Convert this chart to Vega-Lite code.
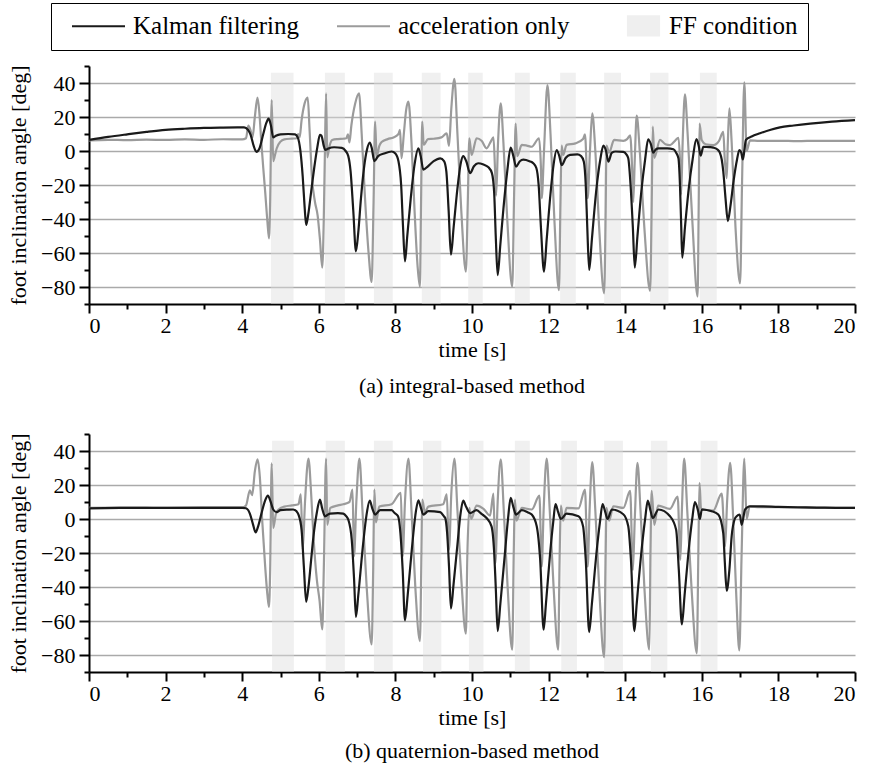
{
"$schema": "https://vega.github.io/schema/vega-lite/v6.json",
"padding": {"left": 7, "top": 2, "right": 5, "bottom": 5},
"config": {
  "font": "Liberation Serif",
  "view": {"stroke": null},
  "axis": {"labelFont": "Liberation Serif", "labelFontSize": 22, "labelColor": "black", "titleFont": "Liberation Serif", "titleFontSize": 22, "titleFontWeight": "normal", "titleColor": "black", "domainColor": "black", "domainWidth": 2, "tickColor": "black", "tickWidth": 2, "gridColor": "#aaaaaa", "gridWidth": 1.5},
  "title": {"font": "Liberation Serif", "fontSize": 22, "fontWeight": "normal", "color": "black"}
},
"datasets": {
  "legendItems": [{"series": "Kalman filtering"}, {"series": "acceleration only"}, {"series": "FF condition"}],
  "bandsA": [{"s":4.75,"e":5.34},{"s":6.16,"e":6.68},{"s":7.44,"e":7.93},{"s":8.69,"e":9.18},{"s":9.90,"e":10.28},{"s":11.12,"e":11.51},{"s":12.30,"e":12.71},{"s":13.45,"e":13.89},{"s":14.65,"e":15.13},{"s":15.95,"e":16.39}],
  "bandsB": [{"s":4.78,"e":5.35},{"s":6.18,"e":6.68},{"s":7.44,"e":7.93},{"s":8.72,"e":9.2},{"s":9.92,"e":10.3},{"s":11.12,"e":11.51},{"s":12.33,"e":12.74},{"s":13.45,"e":13.94},{"s":14.67,"e":15.1},{"s":15.97,"e":16.41}],
  "aK": [{"t":0,"v":6.5},{"t":0.5,"v":8.3},{"t":1,"v":9.8},{"t":1.5,"v":11.2},{"t":2,"v":12.4},{"t":2.5,"v":13.1},{"t":3,"v":13.6},{"t":3.5,"v":13.8},{"t":4.05,"v":13.9},{"t":4.15,"v":12.5},{"t":4.22,"v":9.5},{"t":4.3,"v":3},{"t":4.37,"v":-0.5},{"t":4.45,"v":1.5},{"t":4.55,"v":10},{"t":4.63,"v":16.5},{"t":4.69,"v":19},{"t":4.75,"v":15},{"t":4.81,"v":8},{"t":4.88,"v":9},{"t":5.0,"v":9.8},{"t":5.2,"v":10},{"t":5.38,"v":9.8},{"t":5.45,"v":8},{"t":5.52,"v":0},{"t":5.58,"v":-15},{"t":5.63,"v":-33},{"t":5.67,"v":-43.5},{"t":5.72,"v":-38},{"t":5.8,"v":-24},{"t":5.88,"v":-10},{"t":5.96,"v":2},{"t":6.03,"v":9.5},{"t":6.07,"v":9},{"t":6.13,"v":3},{"t":6.17,"v":0.6},{"t":6.25,"v":1.5},{"t":6.4,"v":2.2},{"t":6.6,"v":1.8},{"t":6.7,"v":0},{"t":6.77,"v":-3},{"t":6.83,"v":-12},{"t":6.9,"v":-35},{"t":6.97,"v":-59},{"t":7.03,"v":-48},{"t":7.1,"v":-28},{"t":7.18,"v":-10},{"t":7.26,"v":1},{"t":7.33,"v":5},{"t":7.38,"v":2},{"t":7.45,"v":-6},{"t":7.55,"v":-3},{"t":7.7,"v":-1.5},{"t":7.9,"v":-0.3},{"t":8.0,"v":-1.5},{"t":8.08,"v":-6},{"t":8.15,"v":-20},{"t":8.2,"v":-45},{"t":8.25,"v":-65},{"t":8.31,"v":-50},{"t":8.4,"v":-28},{"t":8.5,"v":-8},{"t":8.6,"v":1.6},{"t":8.66,"v":-3},{"t":8.73,"v":-11},{"t":8.85,"v":-9},{"t":9.0,"v":-6},{"t":9.17,"v":-4.3},{"t":9.27,"v":-6},{"t":9.33,"v":-12},{"t":9.39,"v":-35},{"t":9.45,"v":-61},{"t":9.52,"v":-45},{"t":9.62,"v":-22},{"t":9.7,"v":-8},{"t":9.77,"v":-3},{"t":9.85,"v":-6},{"t":9.95,"v":-13},{"t":10.05,"v":-9},{"t":10.16,"v":-7.2},{"t":10.3,"v":-8},{"t":10.43,"v":-9.6},{"t":10.52,"v":-13},{"t":10.58,"v":-25},{"t":10.62,"v":-50},{"t":10.67,"v":-73},{"t":10.74,"v":-55},{"t":10.82,"v":-34},{"t":10.92,"v":-12},{"t":11.01,"v":2},{"t":11.08,"v":-3},{"t":11.15,"v":-9.2},{"t":11.25,"v":-6},{"t":11.34,"v":-5.1},{"t":11.5,"v":-6},{"t":11.6,"v":-7.2},{"t":11.68,"v":-10},{"t":11.74,"v":-20},{"t":11.8,"v":-45},{"t":11.88,"v":-71},{"t":11.95,"v":-52},{"t":12.05,"v":-25},{"t":12.13,"v":-8},{"t":12.21,"v":0.6},{"t":12.28,"v":-3},{"t":12.34,"v":-8.3},{"t":12.45,"v":-4},{"t":12.56,"v":-2.3},{"t":12.75,"v":-2},{"t":12.85,"v":-3},{"t":12.92,"v":-6.3},{"t":12.97,"v":-20},{"t":13.01,"v":-45},{"t":13.06,"v":-70},{"t":13.13,"v":-52},{"t":13.25,"v":-22},{"t":13.35,"v":-5},{"t":13.43,"v":3.2},{"t":13.5,"v":0},{"t":13.56,"v":-6.3},{"t":13.65,"v":-1},{"t":13.75,"v":-0.3},{"t":13.95,"v":-0.5},{"t":14.03,"v":-2},{"t":14.08,"v":-4.3},{"t":14.14,"v":-20},{"t":14.2,"v":-45},{"t":14.25,"v":-68.6},{"t":14.32,"v":-50},{"t":14.42,"v":-24},{"t":14.52,"v":-5},{"t":14.6,"v":6.9},{"t":14.67,"v":4},{"t":14.73,"v":-1},{"t":14.8,"v":1},{"t":14.87,"v":1.6},{"t":15.1,"v":1.6},{"t":15.26,"v":1},{"t":15.33,"v":-1},{"t":15.39,"v":-4.3},{"t":15.43,"v":-20},{"t":15.46,"v":-42},{"t":15.49,"v":-62.7},{"t":15.56,"v":-45},{"t":15.66,"v":-22},{"t":15.76,"v":-5},{"t":15.86,"v":7},{"t":15.92,"v":3},{"t":15.97,"v":-2.7},{"t":16.04,"v":2.5},{"t":16.2,"v":2.3},{"t":16.3,"v":2},{"t":16.4,"v":1},{"t":16.47,"v":-1},{"t":16.52,"v":-5},{"t":16.56,"v":-11.8},{"t":16.62,"v":-28},{"t":16.68,"v":-41.2},{"t":16.75,"v":-32},{"t":16.83,"v":-17.6},{"t":16.92,"v":-5},{"t":16.98,"v":0.6},{"t":17.03,"v":-1},{"t":17.07,"v":-5},{"t":17.11,"v":0},{"t":17.15,"v":6.5},{"t":17.3,"v":8.5},{"t":17.52,"v":10.4},{"t":17.8,"v":12.5},{"t":18.04,"v":13.9},{"t":18.4,"v":15},{"t":18.83,"v":16.1},{"t":19.4,"v":17.3},{"t":20,"v":18.2}],
  "aA": [{"t":0,"v":6.3},{"t":0.5,"v":6.6},{"t":1,"v":6.4},{"t":1.5,"v":6.7},{"t":2,"v":6.5},{"t":2.5,"v":6.8},{"t":3,"v":6.6},{"t":3.5,"v":6.9},{"t":4.0,"v":6.8},{"t":4.1,"v":7.5},{"t":4.16,"v":15},{"t":4.22,"v":12},{"t":4.27,"v":8},{"t":4.33,"v":20},{"t":4.4,"v":31.4},{"t":4.45,"v":22},{"t":4.5,"v":5},{"t":4.55,"v":-10},{"t":4.6,"v":-24},{"t":4.66,"v":-42},{"t":4.7,"v":-51.4},{"t":4.73,"v":-30},{"t":4.77,"v":30},{"t":4.81,"v":-6},{"t":4.86,"v":-2},{"t":4.9,"v":1.5},{"t":5.0,"v":5.5},{"t":5.1,"v":6.8},{"t":5.3,"v":7.3},{"t":5.42,"v":7.5},{"t":5.46,"v":10},{"t":5.5,"v":8},{"t":5.55,"v":18},{"t":5.63,"v":28},{"t":5.71,"v":31.4},{"t":5.76,"v":12},{"t":5.82,"v":-15},{"t":5.9,"v":-30},{"t":5.97,"v":-38},{"t":6.03,"v":-52},{"t":6.09,"v":-68.6},{"t":6.13,"v":-40},{"t":6.16,"v":0},{"t":6.19,"v":33.9},{"t":6.22,"v":-3.7},{"t":6.28,"v":3},{"t":6.35,"v":6.5},{"t":6.5,"v":7},{"t":6.64,"v":7.2},{"t":6.72,"v":7.5},{"t":6.76,"v":9.8},{"t":6.8,"v":5},{"t":6.85,"v":15},{"t":6.95,"v":28},{"t":7.05,"v":33.9},{"t":7.12,"v":10},{"t":7.2,"v":-25},{"t":7.3,"v":-60},{"t":7.38,"v":-77},{"t":7.43,"v":-30},{"t":7.47,"v":17.3},{"t":7.51,"v":-3.3},{"t":7.58,"v":3},{"t":7.64,"v":5.3},{"t":7.8,"v":7},{"t":7.95,"v":8},{"t":8.08,"v":10},{"t":8.12,"v":12.4},{"t":8.16,"v":-4.3},{"t":8.22,"v":10},{"t":8.28,"v":24},{"t":8.34,"v":29},{"t":8.42,"v":5},{"t":8.5,"v":-35},{"t":8.58,"v":-68},{"t":8.64,"v":-79.8},{"t":8.67,"v":-30},{"t":8.7,"v":17.3},{"t":8.74,"v":3.6},{"t":8.85,"v":7},{"t":9.0,"v":7.2},{"t":9.2,"v":8},{"t":9.34,"v":10.4},{"t":9.4,"v":3},{"t":9.46,"v":25},{"t":9.54,"v":42.4},{"t":9.62,"v":10},{"t":9.72,"v":-35},{"t":9.84,"v":-71},{"t":9.89,"v":-30},{"t":9.93,"v":7.5},{"t":9.99,"v":-2.3},{"t":10.12,"v":7.5},{"t":10.25,"v":6},{"t":10.38,"v":1.6},{"t":10.5,"v":6},{"t":10.56,"v":8.1},{"t":10.6,"v":-10},{"t":10.63,"v":-26.3},{"t":10.68,"v":5},{"t":10.75,"v":28},{"t":10.82,"v":5},{"t":10.92,"v":-40},{"t":11.05,"v":-79.8},{"t":11.1,"v":-25},{"t":11.14,"v":16.1},{"t":11.18,"v":-3},{"t":11.3,"v":3.6},{"t":11.43,"v":3.2},{"t":11.56,"v":2.5},{"t":11.75,"v":7.5},{"t":11.8,"v":-10},{"t":11.82,"v":-27.8},{"t":11.88,"v":0},{"t":11.97,"v":38.8},{"t":12.05,"v":10},{"t":12.15,"v":-40},{"t":12.27,"v":-81.8},{"t":12.31,"v":-30},{"t":12.34,"v":3.2},{"t":12.38,"v":-2.3},{"t":12.47,"v":3.6},{"t":12.7,"v":4.5},{"t":12.9,"v":7},{"t":12.95,"v":9.8},{"t":13.0,"v":-15},{"t":13.02,"v":-27.8},{"t":13.08,"v":0},{"t":13.14,"v":22.2},{"t":13.22,"v":0},{"t":13.32,"v":-45},{"t":13.45,"v":-83.7},{"t":13.49,"v":-35},{"t":13.51,"v":3.2},{"t":13.58,"v":-1},{"t":13.71,"v":6.5},{"t":13.95,"v":6},{"t":14.05,"v":7},{"t":14.13,"v":9.2},{"t":14.18,"v":-10},{"t":14.21,"v":-30},{"t":14.25,"v":-5},{"t":14.3,"v":20.8},{"t":14.38,"v":0},{"t":14.5,"v":-45},{"t":14.65,"v":-82.2},{"t":14.69,"v":-35},{"t":14.72,"v":14.3},{"t":14.76,"v":-4},{"t":14.91,"v":6.5},{"t":15.05,"v":4},{"t":15.17,"v":3.5},{"t":15.3,"v":6},{"t":15.39,"v":7.8},{"t":15.43,"v":-5},{"t":15.46,"v":-25.7},{"t":15.5,"v":5},{"t":15.56,"v":33.3},{"t":15.63,"v":10},{"t":15.75,"v":-40},{"t":15.89,"v":-85.6},{"t":15.92,"v":-30},{"t":15.94,"v":16.1},{"t":16.0,"v":6.3},{"t":16.1,"v":4},{"t":16.3,"v":3.5},{"t":16.45,"v":6},{"t":16.56,"v":11.3},{"t":16.6,"v":-5},{"t":16.65,"v":-16},{"t":16.68,"v":5},{"t":16.72,"v":25.1},{"t":16.78,"v":5},{"t":16.88,"v":-45},{"t":17.0,"v":-77.8},{"t":17.05,"v":-20},{"t":17.11,"v":40.4},{"t":17.17,"v":0},{"t":17.26,"v":6.3},{"t":17.5,"v":5.9},{"t":18,"v":6},{"t":18.5,"v":5.8},{"t":19,"v":6},{"t":19.5,"v":5.9},{"t":20,"v":6}],
  "bK": [{"t":0,"v":6.3},{"t":1,"v":6.5},{"t":2,"v":6.5},{"t":3,"v":6.5},{"t":4.0,"v":6.6},{"t":4.1,"v":6.3},{"t":4.2,"v":3.2},{"t":4.28,"v":-3},{"t":4.35,"v":-7.9},{"t":4.42,"v":-4},{"t":4.5,"v":3},{"t":4.6,"v":11},{"t":4.67,"v":13.8},{"t":4.73,"v":11},{"t":4.81,"v":5.6},{"t":4.9,"v":4},{"t":5.0,"v":5.2},{"t":5.2,"v":5.5},{"t":5.33,"v":5.6},{"t":5.42,"v":4.5},{"t":5.47,"v":2.6},{"t":5.55,"v":-6.3},{"t":5.61,"v":-28},{"t":5.67,"v":-48.7},{"t":5.73,"v":-40},{"t":5.8,"v":-24},{"t":5.86,"v":-10.3},{"t":5.95,"v":4},{"t":6.03,"v":11.4},{"t":6.09,"v":6},{"t":6.16,"v":1.6},{"t":6.29,"v":3.2},{"t":6.5,"v":3.5},{"t":6.64,"v":3.2},{"t":6.72,"v":1.5},{"t":6.77,"v":-0.4},{"t":6.86,"v":-12.2},{"t":6.92,"v":-35},{"t":6.97,"v":-57.6},{"t":7.03,"v":-45},{"t":7.16,"v":-14},{"t":7.25,"v":3},{"t":7.33,"v":10.8},{"t":7.4,"v":6},{"t":7.47,"v":2.6},{"t":7.6,"v":5.2},{"t":7.9,"v":5.2},{"t":7.98,"v":3.5},{"t":8.07,"v":1.6},{"t":8.13,"v":-8},{"t":8.19,"v":-30},{"t":8.25,"v":-59.6},{"t":8.32,"v":-45},{"t":8.42,"v":-20},{"t":8.52,"v":2},{"t":8.6,"v":11},{"t":8.66,"v":7},{"t":8.73,"v":2.6},{"t":8.86,"v":4.6},{"t":9.17,"v":4},{"t":9.27,"v":1.5},{"t":9.3,"v":0.6},{"t":9.35,"v":-8},{"t":9.4,"v":-28},{"t":9.45,"v":-52.7},{"t":9.52,"v":-38},{"t":9.62,"v":-15},{"t":9.7,"v":3},{"t":9.77,"v":10.8},{"t":9.85,"v":7},{"t":9.95,"v":3.5},{"t":10.12,"v":5.2},{"t":10.25,"v":3},{"t":10.38,"v":0.6},{"t":10.51,"v":-4.3},{"t":10.58,"v":-20},{"t":10.62,"v":-40},{"t":10.67,"v":-65.9},{"t":10.74,"v":-50},{"t":10.86,"v":-20},{"t":10.94,"v":0},{"t":11.01,"v":12.4},{"t":11.08,"v":7},{"t":11.15,"v":2.6},{"t":11.3,"v":5.2},{"t":11.45,"v":4},{"t":11.56,"v":2.6},{"t":11.69,"v":-4.3},{"t":11.78,"v":-24},{"t":11.87,"v":-65.1},{"t":11.93,"v":-50},{"t":12.04,"v":-20},{"t":12.12,"v":-2},{"t":12.18,"v":8.8},{"t":12.25,"v":4},{"t":12.32,"v":0},{"t":12.47,"v":3.2},{"t":12.78,"v":1.6},{"t":12.9,"v":-4.3},{"t":12.97,"v":-24},{"t":13.06,"v":-66.5},{"t":13.13,"v":-50},{"t":13.25,"v":-20},{"t":13.34,"v":-2},{"t":13.41,"v":8.8},{"t":13.48,"v":4},{"t":13.54,"v":0},{"t":13.65,"v":5.6},{"t":13.95,"v":2.8},{"t":14.08,"v":-4.3},{"t":14.15,"v":-24},{"t":14.24,"v":-65.9},{"t":14.3,"v":-50},{"t":14.42,"v":-20},{"t":14.52,"v":0},{"t":14.59,"v":10.8},{"t":14.66,"v":5},{"t":14.72,"v":0.6},{"t":14.87,"v":5.6},{"t":15.17,"v":1.6},{"t":15.33,"v":-6.3},{"t":15.4,"v":-30},{"t":15.48,"v":-62},{"t":15.55,"v":-45},{"t":15.65,"v":-20},{"t":15.75,"v":0},{"t":15.82,"v":9.9},{"t":15.9,"v":5},{"t":15.95,"v":0},{"t":16.0,"v":5.6},{"t":16.26,"v":4.6},{"t":16.43,"v":2.6},{"t":16.56,"v":-8.3},{"t":16.6,"v":-25},{"t":16.65,"v":-42.2},{"t":16.72,"v":-30},{"t":16.78,"v":-10},{"t":16.86,"v":0},{"t":16.91,"v":1.6},{"t":16.99,"v":2.6},{"t":17.04,"v":-3.4},{"t":17.13,"v":5.6},{"t":17.26,"v":7.5},{"t":17.6,"v":7.4},{"t":18,"v":7.1},{"t":18.5,"v":6.9},{"t":19,"v":6.7},{"t":19.5,"v":6.6},{"t":20,"v":6.5}],
  "bA": [{"t":0,"v":6.5},{"t":1,"v":6.7},{"t":2,"v":6.6},{"t":3,"v":6.8},{"t":4.0,"v":6.8},{"t":4.1,"v":8},{"t":4.2,"v":16.9},{"t":4.26,"v":14},{"t":4.33,"v":28},{"t":4.4,"v":35.1},{"t":4.46,"v":25},{"t":4.52,"v":0},{"t":4.6,"v":-28},{"t":4.66,"v":-45},{"t":4.7,"v":-51.7},{"t":4.73,"v":-30},{"t":4.77,"v":32.7},{"t":4.81,"v":-5.3},{"t":4.88,"v":3},{"t":4.95,"v":5.6},{"t":5.1,"v":7.3},{"t":5.3,"v":8},{"t":5.47,"v":8.7},{"t":5.53,"v":14.5},{"t":5.58,"v":-18},{"t":5.64,"v":10},{"t":5.73,"v":35.5},{"t":5.8,"v":15},{"t":5.86,"v":-10},{"t":5.95,"v":-36},{"t":6.02,"v":-48},{"t":6.09,"v":-65},{"t":6.13,"v":-30},{"t":6.19,"v":35.5},{"t":6.22,"v":-3.4},{"t":6.3,"v":6.5},{"t":6.5,"v":8},{"t":6.64,"v":8.7},{"t":6.8,"v":10},{"t":6.88,"v":17.3},{"t":6.92,"v":-22},{"t":6.98,"v":10},{"t":7.06,"v":35.5},{"t":7.14,"v":5},{"t":7.25,"v":-40},{"t":7.38,"v":-73.8},{"t":7.42,"v":-30},{"t":7.45,"v":17.3},{"t":7.49,"v":-2},{"t":7.58,"v":7.3},{"t":7.9,"v":8.7},{"t":8.14,"v":15.4},{"t":8.19,"v":-22},{"t":8.25,"v":10},{"t":8.34,"v":35.5},{"t":8.42,"v":5},{"t":8.52,"v":-40},{"t":8.64,"v":-71.8},{"t":8.68,"v":-20},{"t":8.7,"v":11.4},{"t":8.77,"v":4},{"t":8.86,"v":7.3},{"t":9.25,"v":8.7},{"t":9.34,"v":14.5},{"t":9.4,"v":-18},{"t":9.46,"v":15},{"t":9.54,"v":35.5},{"t":9.62,"v":5},{"t":9.72,"v":-35},{"t":9.84,"v":-67.5},{"t":9.88,"v":-20},{"t":9.93,"v":6.5},{"t":9.98,"v":0},{"t":10.12,"v":7.9},{"t":10.3,"v":6},{"t":10.47,"v":2},{"t":10.56,"v":14.9},{"t":10.61,"v":-26},{"t":10.67,"v":10},{"t":10.75,"v":35.1},{"t":10.83,"v":5},{"t":10.93,"v":-40},{"t":11.05,"v":-76.9},{"t":11.09,"v":-20},{"t":11.12,"v":11.4},{"t":11.16,"v":-1},{"t":11.3,"v":6.5},{"t":11.56,"v":5.6},{"t":11.76,"v":13.8},{"t":11.82,"v":-28},{"t":11.87,"v":5},{"t":11.95,"v":35.5},{"t":12.03,"v":5},{"t":12.13,"v":-40},{"t":12.25,"v":-76.9},{"t":12.29,"v":-20},{"t":12.32,"v":7.9},{"t":12.38,"v":-1},{"t":12.47,"v":6.5},{"t":12.78,"v":6.2},{"t":12.95,"v":17.3},{"t":13.02,"v":-28},{"t":13.07,"v":5},{"t":13.14,"v":33.5},{"t":13.22,"v":5},{"t":13.32,"v":-40},{"t":13.45,"v":-81.3},{"t":13.49,"v":-20},{"t":13.51,"v":6.5},{"t":13.58,"v":-1},{"t":13.69,"v":7.5},{"t":13.95,"v":6.5},{"t":14.13,"v":16.5},{"t":14.2,"v":-30},{"t":14.25,"v":0},{"t":14.32,"v":33.1},{"t":14.4,"v":5},{"t":14.5,"v":-40},{"t":14.63,"v":-76.9},{"t":14.66,"v":-20},{"t":14.69,"v":16.5},{"t":14.76,"v":-3.4},{"t":14.86,"v":7.9},{"t":15.17,"v":6},{"t":15.37,"v":13.2},{"t":15.44,"v":-24},{"t":15.48,"v":5},{"t":15.54,"v":35.5},{"t":15.62,"v":5},{"t":15.73,"v":-40},{"t":15.87,"v":-79},{"t":15.91,"v":-20},{"t":15.94,"v":21.3},{"t":15.98,"v":6},{"t":16.3,"v":5},{"t":16.52,"v":14.9},{"t":16.61,"v":-16},{"t":16.66,"v":10},{"t":16.74,"v":33.1},{"t":16.82,"v":0},{"t":16.9,"v":-45},{"t":16.98,"v":-77.3},{"t":17.04,"v":-20},{"t":17.11,"v":35.5},{"t":17.17,"v":0},{"t":17.25,"v":7.3},{"t":17.5,"v":7},{"t":18,"v":6.9},{"t":18.5,"v":6.7},{"t":19,"v":6.6},{"t":19.5,"v":6.5},{"t":20,"v":6.5}]
},
"spacing": 35,
"vconcat": [
  {
    "width": 766, "height": 238,
    "title": {"text": "(a) integral-based method", "orient": "bottom", "offset": 16},
    "resolve": {"axis": {"x": "independent", "y": "independent"}},
    "layer": [
      {
        "data": {"name": "bandsA"},
        "mark": {"type": "rect", "opacity": 0.45, "color": "#dddddd"},
        "encoding": {
          "x": {"field": "s", "type": "quantitative", "scale": {"domain": [0, 20], "nice": false, "zero": false}, "axis": {"orient": "bottom", "values": [1,3,5,7,9,11,13,15,17,19], "labels": false, "domain": false, "grid": false, "tickSize": 5, "title": null}},
          "x2": {"field": "e"},
          "y": {"datum": 46, "type": "quantitative", "scale": {"domain": [-90, 50], "nice": false, "zero": false}, "axis": {"orient": "left", "values": [-90,-70,-50,-30,-10,10,30,50], "labels": false, "domain": false, "grid": false, "tickSize": 5, "title": null}},
          "y2": {"datum": -90}
        }
      },
      {
        "data": {"name": "aA"},
        "mark": {"type": "line", "strokeWidth": 2.2, "interpolate": "monotone"},
        "encoding": {
          "x": {"field": "t", "type": "quantitative", "axis": null},
          "y": {"field": "v", "type": "quantitative", "axis": null},
          "color": {"datum": "acceleration only", "type": "nominal",
            "scale": {"domain": ["Kalman filtering", "acceleration only", "FF condition"], "range": ["#1a1a1a", "#9b9b9b", "#efefef"]}}
        }
      },
      {
        "data": {"name": "aK"},
        "mark": {"type": "line", "strokeWidth": 2.2, "interpolate": "monotone"},
        "encoding": {
          "x": {"field": "t", "type": "quantitative", "axis": {"orient": "bottom", "values": [0,2,4,6,8,10,12,14,16,18,20], "grid": false, "tickSize": 9, "labelPadding": 2, "title": "time [s]", "titlePadding": 3}},
          "y": {"field": "v", "type": "quantitative", "axis": {"orient": "left", "values": [-80,-60,-40,-20,0,20,40], "grid": true, "tickSize": 10, "labelPadding": 4, "title": "foot inclination angle [deg]", "titlePadding": 10}},
          "color": {"datum": "Kalman filtering", "type": "nominal"}
        }
      },
      {
        "data": {"name": "legendItems"},
        "mark": {"type": "point", "filled": false, "fill": "#efefef", "opacity": 0, "strokeWidth": 2.2},
        "encoding": {
          "color": {"field": "series", "type": "nominal",
            "legend": {"orient": "none", "legendX": -38, "legendY": -63, "direction": "horizontal", "title": null,
              "symbolSize": 256, "symbolStrokeWidth": 2.2, "symbolOffset": 25, "symbolOpacity": 1,
              "labelFont": "Liberation Serif", "labelFontSize": 25, "labelColor": "black", "labelOffset": 22, "labelLimit": 400,
              "columnPadding": 27, "padding": 10, "strokeColor": "black", "fillColor": "white"}},
          "shape": {"field": "series", "type": "nominal",
            "scale": {"domain": ["Kalman filtering", "acceleration only", "FF condition"], "range": ["M-3.3125,0H3.3125", "M-3.3125,0H3.3125", "M-0.8125,-1.1875H3.0625V1.1875H-0.8125Z"]},
            "legend": {"orient": "none", "legendX": -38, "legendY": -63, "direction": "horizontal", "title": null,
              "symbolSize": 256, "symbolStrokeWidth": 2.2, "symbolOffset": 25, "symbolOpacity": 1,
              "labelFont": "Liberation Serif", "labelFontSize": 25, "labelColor": "black", "labelOffset": 22, "labelLimit": 400,
              "columnPadding": 27, "padding": 10, "strokeColor": "black", "fillColor": "white"}}
        }
      }
    ]
  },
  {
    "width": 766, "height": 238,
    "title": {"text": "(b) quaternion-based method", "orient": "bottom", "offset": 13},
    "resolve": {"axis": {"x": "independent", "y": "independent"}},
    "layer": [
      {
        "data": {"name": "bandsB"},
        "mark": {"type": "rect", "opacity": 0.45, "color": "#dddddd"},
        "encoding": {
          "x": {"field": "s", "type": "quantitative", "scale": {"domain": [0, 20], "nice": false, "zero": false}, "axis": {"orient": "bottom", "values": [1,3,5,7,9,11,13,15,17,19], "labels": false, "domain": false, "grid": false, "tickSize": 5, "title": null}},
          "x2": {"field": "e"},
          "y": {"datum": 46, "type": "quantitative", "scale": {"domain": [-90, 50], "nice": false, "zero": false}, "axis": {"orient": "left", "values": [-90,-70,-50,-30,-10,10,30,50], "labels": false, "domain": false, "grid": false, "tickSize": 5, "title": null}},
          "y2": {"datum": -90}
        }
      },
      {
        "data": {"name": "bA"},
        "mark": {"type": "line", "strokeWidth": 2.2, "interpolate": "monotone"},
        "encoding": {
          "x": {"field": "t", "type": "quantitative", "axis": null},
          "y": {"field": "v", "type": "quantitative", "axis": null},
          "color": {"datum": "acceleration only", "type": "nominal"}
        }
      },
      {
        "data": {"name": "bK"},
        "mark": {"type": "line", "strokeWidth": 2.2, "interpolate": "monotone"},
        "encoding": {
          "x": {"field": "t", "type": "quantitative", "axis": {"orient": "bottom", "values": [0,2,4,6,8,10,12,14,16,18,20], "grid": false, "tickSize": 9, "labelPadding": 2, "title": "time [s]", "titlePadding": 3}},
          "y": {"field": "v", "type": "quantitative", "axis": {"orient": "left", "values": [-80,-60,-40,-20,0,20,40], "grid": true, "tickSize": 10, "labelPadding": 4, "title": "foot inclination angle [deg]", "titlePadding": 10}},
          "color": {"datum": "Kalman filtering", "type": "nominal"}
        }
      }
    ]
  }
]
}
